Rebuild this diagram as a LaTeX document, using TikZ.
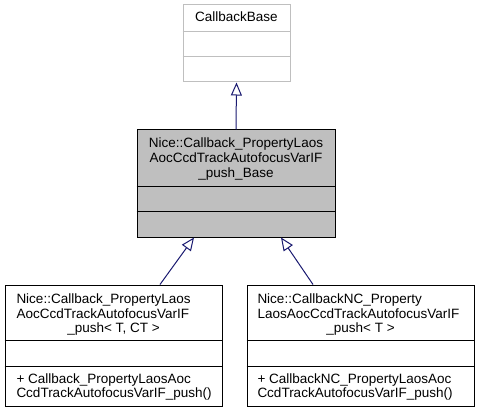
\documentclass[tikz,border=0pt]{standalone}
\usepackage{fontspec}
\setmainfont{Liberation Sans}
\usetikzlibrary{arrows.meta}
\definecolor{grey75}{HTML}{BFBFBF}
\definecolor{midnightblue}{HTML}{191970}
\tikzstyle{classbox}=[rectangle,draw=black,inner sep=0pt]
\tikzstyle{fadedbox}=[rectangle,draw=grey75,fill=white,inner sep=0pt]
\tikzstyle{lbl}=[font=\fontsize{13.5}{15}\selectfont,inner sep=0pt]
\tikzstyle{inherit}=[draw,midnightblue,-{Triangle[open,length=13pt,width=11pt,fill=white]}]

\begin{document}
\begin{tikzpicture}[x=1pt,y=-1pt,line width=1pt]
    \useasboundingbox (0,0) rectangle (480,412);
    % the four class boxes
    \node[fadedbox,minimum width=107pt,minimum height=77pt] (base) at (236.5,43.5) {};
    \node[classbox,fill=grey75,minimum width=198pt,minimum height=107pt] (pushbase) at (236,183.5) {};
    \node[classbox,minimum width=217pt,minimum height=121pt] (push) at (113.5,345.5) {};
    \node[classbox,minimum width=227pt,minimum height=121pt] (pushnc) at (360.5,345.5) {};

    % compartment lines
    \foreach \name/\y in {base/32, base/57}
        \draw[grey75] (\name.west |- 0,\y) -- (\name.east |- 0,\y);
    \foreach \name/\y in {pushbase/186, pushbase/211, push/340.5, push/366, pushnc/340.5, pushnc/366}
        \draw (\name.west |- 0,\y) -- (\name.east |- 0,\y);

    % centred lines
    \foreach \pos/\name/\txt in {{(236.5,22)/basename/CallbackBase},
        {(236,148)/pbname1/Nice::Callback\_PropertyLaos},
        {(236,163)/pbname2/AocCcdTrackAutofocusVarIF},
        {(236,177)/pbname3/\_push\_Base},
        {(113.5,332)/pname3/{\_push< T, CT >}},
        {(360.5,332)/ncname3/{\_push< T >}}}
        \node[lbl,anchor=base] (\name) at \pos {\txt};

    % left aligned lines
    \foreach \pos/\name/\txt in {{(16,303)/pname1/Nice::Callback\_PropertyLaos},
        {(16,318)/pname2/AocCcdTrackAutofocusVarIF},
        {(16,383)/pop1/+ Callback\_PropertyLaosAoc},
        {(16,397)/pop2/CcdTrackAutofocusVarIF\_push()},
        {(257,303)/ncname1/Nice::CallbackNC\_Property},
        {(257,318)/ncname2/LaosAocCcdTrackAutofocusVarIF},
        {(257,383)/ncop1/+ CallbackNC\_PropertyLaosAoc},
        {(257,397)/ncop2/CcdTrackAutofocusVarIF\_push()}}
        \node[lbl,anchor=base west] (\name) at \pos {\txt};

    % inheritance
    \path[inherit] (pushbase.north) -- (base.south);
    \path[inherit] ([xshift=46.5pt]push.north) -- ([xshift=-42pt]pushbase.south);
    \path[inherit] ([xshift=-47.5pt]pushnc.north) -- ([xshift=45pt]pushbase.south);
\end{tikzpicture}
\end{document}
